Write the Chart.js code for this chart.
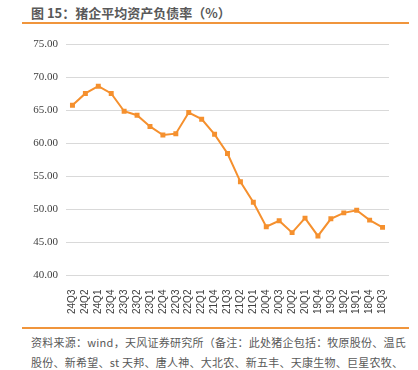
<!DOCTYPE html>
<html>
<head>
<meta charset="utf-8">
<script src="https://cdn.jsdelivr.net/npm/chart.js@4"></script>
<style>
  html, body { margin: 0; padding: 0; background: #fff; }
  body { width: 418px; height: 370px; position: relative; overflow: hidden;
         font-family: "Noto Sans CJK SC", "Noto Sans", sans-serif; }
  #title { position: absolute; left: 31px; top: 3px; font-size: 13px; font-weight: bold; color: #595959; }
  .rule { position: absolute; left: 22px; width: 387px; height: 2px; background: #f0953c; }
  #box { position: absolute; left: 0; top: 30px; width: 418px; height: 290px; }
  .note { position: absolute; left: 31px; font-size: 11px; line-height: 14px; color: #595959; white-space: nowrap; letter-spacing: 0.25px; }
</style>
</head>
<body>
<div id="title">图 15：猪企平均资产负债率（%）</div>
<div class="rule" style="top:22px"></div>
<div id="box"><canvas id="chart"></canvas></div>
<div class="rule" style="top:327px"></div>
<div class="note" style="top:335px">资料来源：wind，天风证券研究所（备注：此处猪企包括：牧原股份、温氏</div>
<div class="note" style="top:355px">股份、新希望、st 天邦、唐人神、大北农、新五丰、天康生物、巨星农牧、</div>
<script>
// 季度（新→旧）
const quarters = ['24Q3', '24Q2', '24Q1', '23Q4', '23Q3', '23Q2', '23Q1', '22Q4', '22Q3', '22Q2', '22Q1',
    '21Q4', '21Q3', '21Q2', '21Q1', '20Q4', '20Q3', '20Q2', '20Q1', '19Q4', '19Q3', '19Q2', '19Q1', '18Q4', '18Q3'];
// 平均资产负债率（%）
const debtRatio = [65.8, 67.6, 68.7, 67.6, 64.9, 64.3, 62.6, 61.3, 61.5, 64.7, 63.7,
    61.4, 58.5, 54.2, 51.1, 47.4, 48.3, 46.5, 48.7, 46.0, 48.6, 49.5, 49.9, 48.4, 47.3];
const yTicks = [40, 45, 50, 55, 60, 65, 70, 75];

const ctx = document.getElementById('chart');
const chart = new Chart(ctx, {
    type: 'line',
    data: {
        labels: quarters,
        datasets: [{
            data: debtRatio,
            borderColor: '#f5902e',
            backgroundColor: '#f5902e',
            borderWidth: 2,
            pointStyle: 'rect',
            pointRadius: 3.5,
            pointBorderWidth: 0,
            tension: 0
        }]
    },
    options: {
        responsive: true,
        maintainAspectRatio: false,
        animation: false,
        plugins: {
            legend: { display: false },
            tooltip: { enabled: false }
        },
        layout: {
            padding: { top: 8, right: 29, left: 0, bottom: 0 }
        },
        scales: {
            x: {
                offset: true,
                grid: { display: false },
                border: { display: false },
                ticks: {
                    minRotation: 90,
                    maxRotation: 90,
                    autoSkip: false,
                    padding: 6,
                    color: '#404040',
                    font: { family: 'Liberation Sans', size: 10 }
                }
            },
            y: {
                min: 40,
                max: 75,
                afterFit: function (axis) { axis.width = 66; },
                afterBuildTicks: function (axis) {
                    axis.ticks = yTicks.map(v => ({ value: v }));
                },
                grid: { color: '#d9d9d9', lineWidth: 1, drawTicks: false },
                border: { display: false },
                ticks: {
                    padding: 8,
                    color: '#404040',
                    font: { family: 'Liberation Sans Narrow', size: 11 },
                    callback: function (v) { return v.toFixed(2); }
                }
            }
        }
    }
});
</script>
</body>
</html>
